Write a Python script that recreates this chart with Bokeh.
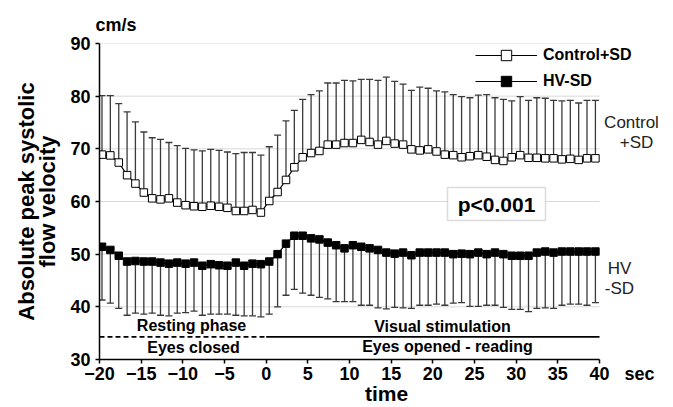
from math import pi
from bokeh.plotting import figure
from bokeh.models import (ColumnDataSource, Whisker, TeeHead, Label, Legend, LegendItem,
                          BoxAnnotation, FixedTicker, Range1d)
from bokeh.embed import file_html
from bokeh.resources import INLINE

# ---------------- data ----------------
time_s = [-19.70, -18.70, -17.69, -16.69, -15.69, -14.68, -13.68, -12.68, -11.67, -10.67,
          -9.67, -8.66, -7.66, -6.65, -5.65, -4.65, -3.64, -2.64, -1.64, -0.63,
          0.37, 1.37, 2.38, 3.38, 4.38, 5.39, 6.39, 7.39, 8.40, 9.40,
          10.41, 11.41, 12.41, 13.42, 14.42, 15.42, 16.43, 17.43, 18.43, 19.44,
          20.44, 21.44, 22.45, 23.45, 24.45, 25.46, 26.46, 27.46, 28.47, 29.47,
          30.48, 31.48, 32.48, 33.49, 34.49, 35.49, 36.50, 37.50, 38.50, 39.51]

control_mean = [68.9, 68.75, 67.4, 65.0, 63.4, 61.7, 60.6, 60.4, 60.6, 59.8,
                59.3, 59.1, 59.0, 59.2, 59.0, 58.8, 58.2, 58.2, 58.4, 57.9,
                60.1, 61.8, 64.1, 66.5, 68.4, 69.2, 69.6, 70.8, 70.8, 71.1,
                71.1, 71.7, 71.3, 70.8, 71.5, 71.0, 70.8, 69.9, 69.7, 69.9,
                69.5, 68.9, 68.8, 68.4, 68.6, 68.8, 68.5, 67.9, 67.7, 68.4,
                68.8, 68.3, 68.3, 68.2, 68.2, 68.0, 68.1, 67.9, 68.2, 68.2]

control_plus_sd = [80.1, 80.1, 78.6, 77.0, 75.1, 73.2, 72.1, 71.8, 71.2, 70.6,
                   70.1, 69.8, 69.6, 69.9, 69.7, 69.4, 69.1, 69.3, 69.3, 68.8,
                   70.4, 72.6, 75.3, 77.3, 79.4, 80.3, 81.0, 82.5, 82.5, 83.0,
                   82.9, 83.2, 83.2, 83.0, 83.6, 82.8, 82.3, 81.1, 81.7, 81.5,
                   81.0, 80.8, 80.3, 79.9, 79.7, 80.2, 80.3, 79.7, 79.4, 79.1,
                   79.9, 79.2, 79.7, 79.6, 79.2, 79.1, 79.2, 78.7, 79.2, 79.2]

hv_mean = [51.4, 50.8, 49.7, 48.6, 48.7, 48.6, 48.6, 48.4, 48.2, 48.4,
           48.2, 48.4, 47.8, 48.1, 47.9, 47.8, 48.4, 47.8, 48.2, 48.1,
           48.6, 50.0, 52.0, 53.5, 53.5, 53.0, 52.8, 52.2, 51.7, 51.1,
           51.7, 51.4, 51.1, 50.8, 50.3, 50.1, 50.3, 49.8, 50.3, 50.3,
           50.3, 50.3, 50.0, 50.1, 50.0, 50.3, 50.0, 50.3, 50.0, 49.7,
           49.7, 49.7, 50.3, 50.5, 50.3, 50.5, 50.5, 50.5, 50.5, 50.5]

hv_minus_sd = [41.3, 40.7, 39.7, 38.4, 38.8, 38.6, 38.8, 38.4, 38.3, 38.8,
               38.9, 39.2, 38.4, 38.6, 38.6, 38.6, 38.4, 38.3, 38.3, 38.1,
               38.6, 40.0, 42.2, 43.3, 42.6, 42.2, 41.8, 41.5, 41.0, 41.0,
               41.0, 40.3, 40.3, 39.8, 39.6, 39.9, 39.8, 39.7, 40.3, 40.3,
               40.5, 40.3, 40.7, 40.8, 40.1, 40.1, 40.3, 40.3, 39.9, 39.5,
               39.5, 39.1, 39.7, 39.8, 39.7, 40.3, 40.5, 40.5, 40.3, 40.8]

x_ticks = [-20, -15, -10, -5, 0, 5, 10, 15, 20, 25, 30, 35, 40]
y_ticks = [30, 40, 50, 60, 70, 80, 90]
x_unit = "sec"
y_unit = "cm/s"
series_names = ["Control+SD", "HV-SD"]

phase_start = [-20, 0]
phase_end = [0, 40]
phase_dash = ["5 3", "solid"]
phase_top = ["Resting phase", "Visual stimulation"]
phase_bottom = ["Eyes closed", "Eyes opened - reading"]

FONT = "Liberation Sans"
NB = "\u00a0"

# ---------------- figure ----------------
# frame: left edge at x=-20, bottom edge at y=30; extends right (to host legend / side labels)
X_END = 48.88
p = figure(width=673, height=407, x_range=Range1d(-20, X_END), y_range=Range1d(30, 90),
           output_backend="svg", toolbar_location=None,
           min_border_left=99, min_border_right=0, min_border_top=43, min_border_bottom=48)
p.outline_line_color = None
p.background_fill_color = "white"
p.border_fill_color = "white"
p.xgrid.visible = False
p.ygrid.visible = False

p.title.text = y_unit
p.title.align = "left"
p.title.offset = -4
p.title.standoff = 17
p.title.text_font = FONT
p.title.text_font_style = "bold"
p.title.text_font_size = "18px"
p.title.text_color = "black"

for ax in (p.xaxis, p.yaxis):
    ax.axis_line_color = "black"
    ax.axis_line_width = 1.5
    ax.major_tick_line_color = "black"
    ax.major_tick_line_width = 1.5
    ax.major_tick_out = 4
    ax.major_tick_in = 0
    ax.minor_tick_out = 0
    ax.minor_tick_in = 0
    ax.major_label_text_font = FONT
    ax.major_label_text_font_style = "bold"
    ax.major_label_text_font_size = "18px"
    ax.major_label_text_color = "black"
    ax.axis_label_text_font = FONT
    ax.axis_label_text_font_style = "bold"
    ax.axis_label_text_color = "black"

p.xaxis.ticker = FixedTicker(ticks=x_ticks)
p.xaxis.bounds = (x_ticks[0], x_ticks[-1])
p.xaxis.major_label_standoff = 0
p.xaxis.major_label_overrides = {x_ticks[-1]: NB * 9 + str(x_ticks[-1]) + NB * 3 + x_unit}
p.xaxis.axis_label = "time"
p.xaxis.axis_label_text_font_size = "21px"
p.xaxis.axis_label_standoff = -5

p.yaxis.ticker = FixedTicker(ticks=y_ticks)
p.yaxis.major_label_standoff = 5
p.yaxis.axis_label = "Absolute peak systolic\nflow velocity"
p.yaxis.axis_label_text_font_size = "22px"
p.yaxis.axis_label_standoff = 7
p.yaxis.axis_label_text_line_height = 0.87

src = ColumnDataSource(dict(t=time_s, cm=control_mean, cu=control_plus_sd,
                            hm=hv_mean, hl=hv_minus_sd))

# horizontal grid lines, limited to the axis extent
grid_y = y_ticks[1:]
p.segment(x0=[x_ticks[0]] * len(grid_y), x1=[x_ticks[-1]] * len(grid_y), y0=grid_y, y1=grid_y,
          line_color="#d9d9d9", line_width=1, level="underlay")

EB = "#3a3a3a"
w1 = Whisker(base="t", lower="cm", upper="cu", source=src, dimension="height",
             line_color=EB, line_width=1.3,
             upper_head=TeeHead(size=7, line_color=EB, line_width=1.3), lower_head=None)
w2 = Whisker(base="t", lower="hl", upper="hm", source=src, dimension="height",
             line_color=EB, line_width=1.3,
             lower_head=TeeHead(size=7, line_color=EB, line_width=1.3), upper_head=None)
p.add_layout(w1)
p.add_layout(w2)

r1 = p.line("t", "cm", source=src, line_color="black", line_width=1.2)
s1 = p.scatter("t", "cm", source=src, marker="square", size=7.5,
               fill_color="white", line_color="black", line_width=1)
r2 = p.line("t", "hm", source=src, line_color="black", line_width=1.2)
s2 = p.scatter("t", "hm", source=src, marker="square", size=7.5,
               fill_color="black", line_color="black", line_width=1)

# phase lines
phase_y = 34.3
for x0, x1, dash in zip(phase_start, phase_end, phase_dash):
    p.line([x0, x1], [phase_y, phase_y], line_color="black", line_width=1.6, line_dash=dash)

legend = Legend(items=[LegendItem(label=series_names[0], renderers=[r1, s1]),
                       LegendItem(label=series_names[1], renderers=[r2, s2])],
                location=(376, 265), glyph_width=62, glyph_height=26, label_height=26,
                label_standoff=6, spacing=0, padding=0, margin=0,
                border_line_alpha=0, background_fill_alpha=0,
                label_text_font=FONT, label_text_font_style="bold",
                label_text_font_size="16px", label_text_color="black")
p.add_layout(legend)

# p-value box
box = BoxAnnotation(left=21.76, right=33.52, bottom=56.4, top=62.66,
                    fill_color="white", fill_alpha=1, line_color="#8c8c8c", line_width=1.5)
p.add_layout(box)


def lab(text, x, y, size, style="bold", angle=0, align="center", color="black"):
    p.add_layout(Label(x=x, y=y, x_units="screen", y_units="screen", text=text,
                       text_font=FONT, text_font_style=style, text_font_size=size,
                       text_align=align, text_baseline="middle", angle=angle,
                       text_color=color))


lab("p<0.001", 397, 155, "21px")
lab("Control", 532, 237, "17px", style="normal", color="#222222")
lab("+SD", 537, 217, "17px", style="normal", color="#222222")
lab("HV", 520, 91, "17px", style="normal", color="#222222")
lab("-SD", 520, 71, "17px", style="normal", color="#222222")
lab(phase_top[0], 92, 34, "16px")
lab(phase_bottom[0], 94, 12, "16px")
lab(phase_top[1], 343, 33, "16px")
lab(phase_bottom[1], 348, 13, "16px")

open("out.html", "w").write(file_html(p, INLINE))
